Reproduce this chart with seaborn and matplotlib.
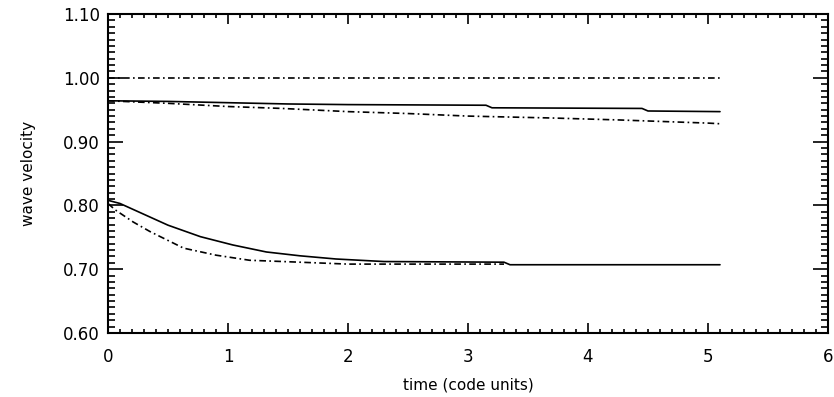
import numpy as np
import pandas as pd
import matplotlib
matplotlib.use('Agg')
import matplotlib.pyplot as plt
import seaborn as sns
from matplotlib.ticker import MultipleLocator, FormatStrFormatter

# Style
sns.set_style('ticks')
plt.rcParams['font.family'] = ['DejaVu Sans']
plt.rcParams['text.color'] = 'black'
plt.rcParams['axes.labelcolor'] = 'black'
plt.rcParams['xtick.color'] = 'black'
plt.rcParams['ytick.color'] = 'black'

# Data
t_ref = [0.0, 5.1]
v_ref = [1.0, 1.0]

t_up_solid = [0.0, 0.5, 1.0, 1.5, 2.0, 3.15, 3.2, 4.45, 4.5, 5.1]
v_up_solid = [0.964, 0.963, 0.961, 0.959, 0.958, 0.957, 0.953, 0.952, 0.948, 0.947]

t_up_dash = [0.0, 0.5, 1.0, 1.45, 2.0, 2.5, 3.0, 3.7, 4.25, 5.0, 5.1]
v_up_dash = [0.964, 0.960, 0.955, 0.952, 0.947, 0.944, 0.940, 0.937, 0.934, 0.929, 0.928]

t_lo_solid = [0.0, 0.1, 0.5, 0.77, 1.04, 1.32, 1.6, 1.9, 2.3, 3.3, 3.35, 5.1]
v_lo_solid = [0.808, 0.803, 0.769, 0.751, 0.738, 0.727, 0.721, 0.716, 0.712, 0.711, 0.707, 0.707]

t_lo_dash = [0.0, 0.06, 0.21, 0.35, 0.63, 0.9, 1.18, 1.46, 2.0, 2.5, 3.3]
v_lo_dash = [0.803, 0.793, 0.774, 0.759, 0.733, 0.722, 0.714, 0.712, 0.708, 0.708, 0.708]

x_ticks = [0, 1, 2, 3, 4, 5, 6]
y_ticks = [0.60, 0.70, 0.80, 0.90, 1.00, 1.10]

fig = plt.figure(figsize=(8.34, 3.97), dpi=100)
ax = fig.add_axes([0.1295, 0.1612, 0.8633, 0.8035])

dashdot = (0, (4, 2, 1, 2))
lw = 1.2
sns.lineplot(x=t_ref, y=v_ref, ax=ax, color='black', lw=lw, linestyle=dashdot)
sns.lineplot(x=t_up_solid, y=v_up_solid, ax=ax, color='black', lw=lw, sort=False)
sns.lineplot(x=t_up_dash, y=v_up_dash, ax=ax, color='black', lw=lw, linestyle=dashdot, sort=False)
sns.lineplot(x=t_lo_solid, y=v_lo_solid, ax=ax, color='black', lw=lw, sort=False)
sns.lineplot(x=t_lo_dash, y=v_lo_dash, ax=ax, color='black', lw=lw, linestyle=dashdot, sort=False)

ax.set_xlim(0, 6)
ax.set_ylim(0.60, 1.10)
ax.set_xticks(x_ticks)
ax.set_yticks(y_ticks)
ax.xaxis.set_minor_locator(MultipleLocator(0.1))
ax.yaxis.set_minor_locator(MultipleLocator(0.01))
ax.yaxis.set_major_formatter(FormatStrFormatter('%.2f'))

for s in ax.spines.values():
    s.set_visible(True)
    s.set_linewidth(1.5)
    s.set_color('black')

ax.tick_params(which='both', direction='in', top=True, right=True, color='black', width=1.2)
ax.tick_params(axis='x', which='major', length=7, pad=11, labelsize=12)
ax.tick_params(axis='x', which='minor', length=3)
ax.tick_params(axis='y', which='major', length=11, pad=6, labelsize=12)
ax.tick_params(axis='y', which='minor', length=5)

ax.set_xlabel('time (code units)', fontsize=11, labelpad=8)
ax.set_ylabel('wave velocity', fontsize=11, labelpad=19)

plt.savefig('out.png', dpi=100)
